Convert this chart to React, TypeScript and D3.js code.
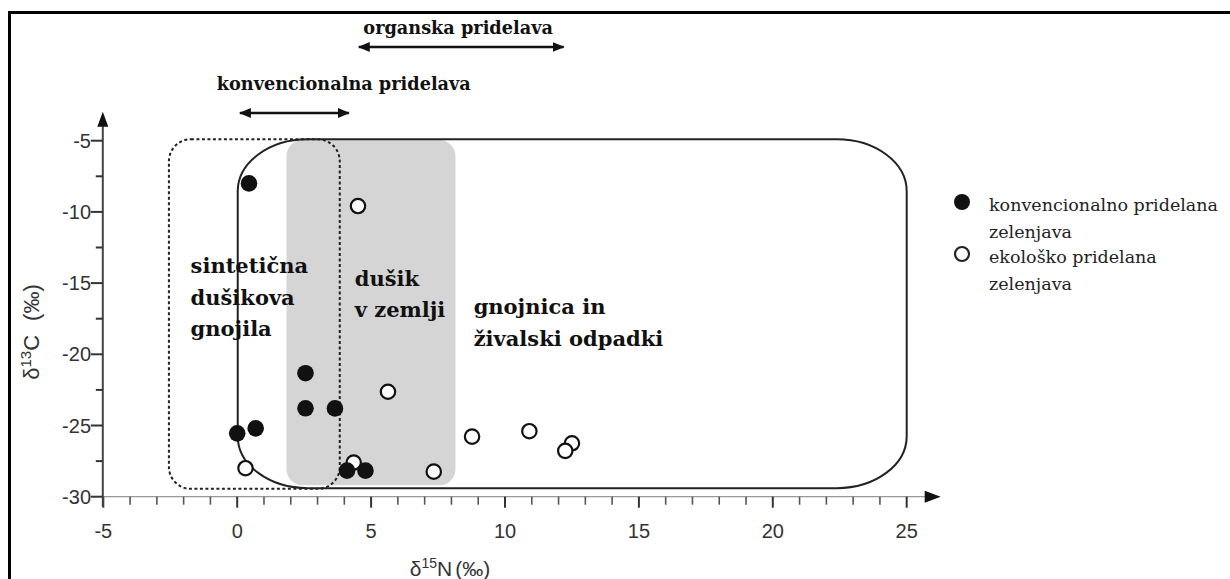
import React from "react";
import * as d3 from "d3";

// δ15N axis ticks (‰)
const xMajorTicks = [-5, 0, 5, 10, 15, 20, 25];
const xMinorTicks = d3.range(-5, 25.001, 1);
// δ13C axis ticks (‰)
const yMajorTicks = [-30, -25, -20, -15, -10, -5];
const yMinorTicks = d3.range(-30, -4.999, 2.5);

// conventionally grown vegetables: [δ15N, δ13C]
const conventional: [number, number][] = [
  [0.44, -8.0],
  [2.55, -21.33],
  [2.55, -23.79],
  [3.65, -23.8],
  [0.0, -25.55],
  [0.69, -25.2],
  [4.1, -28.17],
  [4.79, -28.17],
];

// organically grown vegetables: [δ15N, δ13C]
const organic: [number, number][] = [
  [4.51, -9.59],
  [5.63, -22.63],
  [0.31, -28.0],
  [4.35, -27.6],
  [7.34, -28.24],
  [8.77, -25.78],
  [10.91, -25.4],
  [12.5, -26.25],
  [12.25, -26.78],
];

// nitrogen source ranges (δ15N span, δ13C span)
const soilNitrogen = { n0: 1.84, n1: 8.15, c0: -29.2, c1: -4.95 };
const syntheticFertiliser = { n0: -2.55, n1: 3.83, c0: -29.45, c1: -4.9 };
const manure = { n0: 0.02, n1: 25, c0: -29.4, c1: -4.9 };

const regionLabels = [
  { lines: ["sintetična", "dušikova", "gnojila"], n: -1.74, c: -14.3 },
  { lines: ["dušik", "v zemlji"], n: 4.39, c: -15.2 },
  { lines: ["gnojnica in", "živalski odpadki"], n: 8.83, c: -17.17 },
];

// production ranges shown with double arrows above the plot
const productionRanges = [
  { label: "organska pridelava", from: 4.54, to: 12.19, labelAt: 8.25 },
  { label: "konvencionalna pridelava", from: 0.1, to: 4.17, labelAt: 3.98 },
];

const legendItems = [
  { filled: true, lines: ["konvencionalno pridelana", "zelenjava"] },
  { filled: false, lines: ["ekološko pridelana", "zelenjava"] },
];

const W = 1230;
const H = 579;

export default function App() {
  const x = d3.scaleLinear().domain([-5, 25]).range([103.3, 906.7]);
  const y = d3.scaleLinear().domain([-30, -5]).range([496.7, 140.7]);

  const axisFont = "'Liberation Sans', Arial, sans-serif";
  const serif = "'DejaVu Serif', serif";

  const box = (
    r: { n0: number; n1: number; c0: number; c1: number },
    rx: number,
    ry: number,
    props: React.SVGProps<SVGRectElement>
  ) => (
    <rect
      x={x(r.n0)}
      y={y(r.c1)}
      width={x(r.n1) - x(r.n0)}
      height={y(r.c0) - y(r.c1)}
      rx={rx}
      ry={ry}
      {...props}
    />
  );

  const arrowRow = [47, 113];
  const labelRow = [34, 90];

  const yAxisX = x(-5) - 0.5;
  const xAxisY = y(-30);

  return (
    <svg
      width={W}
      height={H}
      style={{ position: "absolute", left: 0, top: 0, background: "#fff" }}
    >
      <defs>
        <marker
          id="head"
          viewBox="0 0 12 10"
          refX="11"
          refY="5"
          markerWidth="12"
          markerHeight="10"
          markerUnits="userSpaceOnUse"
          orient="auto-start-reverse"
        >
          <path d="M0,0 L12,5 L0,10 Z" fill="#111" />
        </marker>
      </defs>

      {/* frame */}
      <line x1={9.5} y1={12} x2={9.5} y2={H} stroke="#000" strokeWidth={3} />
      <line x1={8} y1={12.5} x2={W} y2={12.5} stroke="#000" strokeWidth={3} />

      {/* source regions */}
      {box(soilNitrogen, 16, 16, { fill: "#d5d5d5" })}
      {box(syntheticFertiliser, 22, 22, {
        fill: "none",
        stroke: "#222",
        strokeWidth: 2,
        strokeDasharray: "3 2.5",
      })}
      {box(manure, 70, 52, { fill: "none", stroke: "#222", strokeWidth: 2 })}

      {/* region labels */}
      {regionLabels.map((r, i) => (
        <text
          key={i}
          x={x(r.n)}
          y={y(r.c)}
          fontFamily={serif}
          fontWeight="bold"
          fontSize={21}
          fill="#111"
        >
          {r.lines.map((l, j) => (
            <tspan key={j} x={x(r.n)} dy={j === 0 ? 0 : 31.5}>
              {l}
            </tspan>
          ))}
        </text>
      ))}

      {/* production ranges */}
      {productionRanges.map((p, i) => (
        <g key={i}>
          <text
            x={x(p.labelAt)}
            y={labelRow[i]}
            textAnchor="middle"
            fontFamily={serif}
            fontWeight="bold"
            fontSize={17.7}
            fill="#111"
          >
            {p.label}
          </text>
          <line
            x1={x(p.from)}
            x2={x(p.to)}
            y1={arrowRow[i]}
            y2={arrowRow[i]}
            stroke="#111"
            strokeWidth={2.5}
            markerStart="url(#head)"
            markerEnd="url(#head)"
          />
        </g>
      ))}

      {/* x axis */}
      <line
        x1={yAxisX}
        x2={x(25) + 20}
        y1={xAxisY}
        y2={xAxisY}
        stroke="#999"
        strokeWidth={1.2}
      />
      <path
        d={`M${x(25) + 18},${xAxisY - 6} L${x(25) + 34},${xAxisY} L${x(25) + 18},${xAxisY + 6} Z`}
        fill="#111"
      />
      {xMinorTicks.map((t) => {
        const major = xMajorTicks.includes(t);
        return (
          <line
            key={t}
            x1={x(t)}
            x2={x(t)}
            y1={xAxisY}
            y2={xAxisY + (major ? 11 : 8)}
            stroke={major ? "#333" : "#555"}
            strokeWidth={major ? 2 : 1.6}
          />
        );
      })}
      {xMajorTicks.map((t) => (
        <text
          key={t}
          x={x(t)}
          y={538}
          textAnchor="middle"
          fontFamily={axisFont}
          fontSize={20}
          fill="#333"
        >
          {t}
        </text>
      ))}
      <text x={450} y={576} textAnchor="middle" fontFamily={axisFont} fontSize={21} fill="#333">
        δ<tspan dy={-8} fontSize={14}>15</tspan>
        <tspan dy={8}>N</tspan>
        <tspan dx={3}>(‰)</tspan>
      </text>

      {/* y axis */}
      <line
        x1={yAxisX}
        x2={yAxisX}
        y1={xAxisY + 10}
        y2={y(-5) - 16}
        stroke="#444"
        strokeWidth={2}
      />
      <path
        d={`M${yAxisX - 5.5},${y(-5) - 14} L${yAxisX},${y(-5) - 29} L${yAxisX + 5.5},${y(-5) - 14} Z`}
        fill="#111"
      />
      {yMinorTicks.map((t) => {
        const major = yMajorTicks.includes(t);
        return (
          <line
            key={t}
            x1={yAxisX - (major ? 12 : 7)}
            x2={yAxisX}
            y1={y(t)}
            y2={y(t)}
            stroke="#333"
            strokeWidth={2}
          />
        );
      })}
      {yMajorTicks.map((t) => (
        <text
          key={t}
          x={91}
          y={y(t) + 7}
          textAnchor="end"
          fontFamily={axisFont}
          fontSize={20}
          fill="#333"
        >
          {t}
        </text>
      ))}
      <text
        transform="translate(39,332) rotate(-90)"
        textAnchor="middle"
        fontFamily={axisFont}
        fontSize={22}
        fill="#333"
      >
        δ<tspan dy={-8} fontSize={15}>13</tspan>
        <tspan dy={8}>C</tspan>
        <tspan dx={14}>(‰)</tspan>
      </text>

      {/* points */}
      {organic.map(([n, c], i) => (
        <circle
          key={`o${i}`}
          cx={x(n)}
          cy={y(c)}
          r={7.2}
          fill="#fff"
          stroke="#111"
          strokeWidth={2.2}
        />
      ))}
      {conventional.map(([n, c], i) => (
        <circle key={`c${i}`} cx={x(n)} cy={y(c)} r={8.3} fill="#111" />
      ))}

      {/* legend */}
      {legendItems.map((item, i) => {
        const cy = 202 + i * 52;
        return (
          <g key={i}>
            {item.filled ? (
              <circle cx={962} cy={cy} r={8} fill="#111" />
            ) : (
              <circle cx={962} cy={cy} r={7} fill="#fff" stroke="#222" strokeWidth={2.2} />
            )}
            <text x={989} y={cy + 9} fontFamily={serif} fontSize={17.5} fill="#222">
              {item.lines.map((l, j) => (
                <tspan key={j} x={989} dy={j === 0 ? 0 : 27}>
                  {l}
                </tspan>
              ))}
            </text>
          </g>
        );
      })}
    </svg>
  );
}
